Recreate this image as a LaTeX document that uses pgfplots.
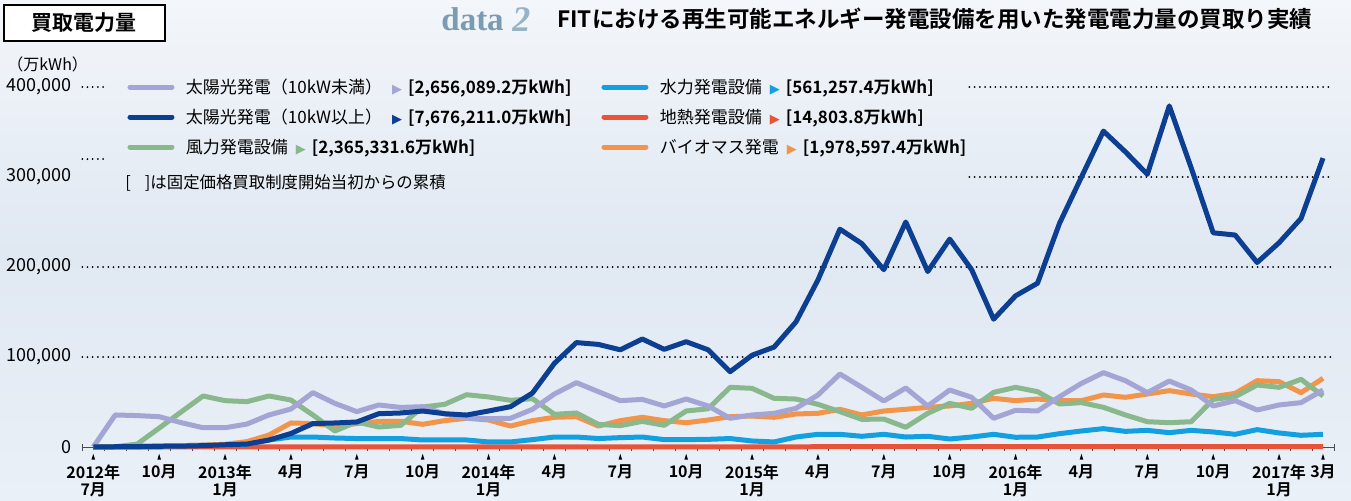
\documentclass[border=0pt]{standalone}
\usepackage{fontspec}
\setmainfont{Noto Sans CJK JP}[BoldFont={Noto Sans CJK JP Bold}]
\newfontfamily\dejavu{DejaVu Sans}
\newfontfamily\serifdata{Liberation Serif}
\usepackage{pgfplots}
\pgfplotsset{compat=1.18}
\usepackage{pgfplotstable}

\definecolor{lav}{RGB}{163,165,213}
\definecolor{dblue}{RGB}{12,62,146}
\definecolor{grn}{RGB}{137,184,141}
\definecolor{sky}{RGB}{18,160,226}
\definecolor{redg}{RGB}{232,83,58}
\definecolor{org}{RGB}{242,148,74}
\definecolor{datac}{RGB}{122,156,176}
\definecolor{datac2}{RGB}{150,180,198}
\definecolor{bgtop}{RGB}{243,246,250}
\definecolor{bgmid}{RGB}{224,232,242}
\definecolor{bgbot}{RGB}{234,240,247}

\newcommand\tri[1]{{\dejavu\fontsize{6.5}{7}\selectfont\textcolor{#1}{▶}}}

% values in 万kWh, month index 0 = 2012-07 ... 56 = 2017-03
\pgfplotstableread{
i lav dark wind hydro geo bio
0 0 0 0 0 0 0
1 35600 300 300 200 0 200
2 34900 500 3300 500 0 500
3 33700 800 21000 1000 0 1000
4 27100 1000 38900 1500 50 1500
5 21400 1500 56700 2000 100 2000
6 21400 2500 51500 2500 100 3000
7 25500 3300 50400 3000 150 6000
8 35600 7800 56700 7800 150 13300
9 42200 15000 52200 11100 200 26700
10 60400 26000 35600 11100 200 26000
11 48500 26700 17800 10000 200 23300
12 39300 27800 27800 9400 200 26000
13 46700 37000 22200 9400 200 28300
14 44000 37800 24100 9400 200 28600
15 44800 40000 44400 7800 200 25200
16 36700 37000 47400 7800 200 29300
17 31900 35500 58100 7800 200 31900
18 31500 40000 55600 5600 200 30000
19 31900 44800 51900 5600 200 23300
20 41900 60000 53700 8200 200 29300
21 58900 93000 36300 11100 250 33000
22 71500 116000 37800 11100 250 33700
23 61500 114000 25200 9400 250 23300
24 51500 108000 23700 10400 250 29300
25 52900 120000 28500 11100 250 33000
26 45600 108500 24100 8200 250 29300
27 53300 117000 40000 8200 250 27000
28 45600 108000 42500 8500 250 30000
29 31900 83700 66300 9400 250 33700
30 35600 102000 65200 6700 250 34400
31 37400 111000 54100 5600 250 33000
32 43000 139000 53300 11100 250 36700
33 57800 185600 47400 14100 300 37400
34 81100 242000 39300 14100 300 41900
35 66300 226000 30700 11900 300 35600
36 51100 197000 31100 14100 300 40000
37 65600 250000 21900 11100 300 41900
38 45600 195000 37400 11900 300 44100
39 63300 231000 48500 8900 300 45600
40 55200 197000 43000 11100 300 48500
41 31900 142000 60700 14100 300 54100
42 40800 168000 66300 10800 300 51500
43 40000 182000 61500 11100 300 53300
44 55900 248500 47800 14800 300 51500
45 70700 300000 49300 17800 300 51500
46 82600 351000 44100 20400 300 57800
47 73700 328000 35600 17400 300 55200
48 60400 303000 28100 18500 300 58900
49 73300 379000 27000 15900 300 62600
50 63300 310000 28100 18500 300 58900
51 45600 238000 52900 16700 300 55900
52 51500 235500 55900 14100 300 59600
53 41100 205000 68900 19300 300 73700
54 46700 227000 66300 15600 300 72600
55 49300 254000 75200 13000 300 60400
56 63300 321000 56700 14100 300 76300
}\datatable

\tikzset{griddots/.style={black, line width=1pt, dash pattern=on 0pt off 2.6pt, line cap=round}}

\begin{document}
\begin{tikzpicture}
\useasboundingbox (0,0) rectangle (675.5pt,250pt);
\clip (0,0) rectangle (675.5pt,250pt);
\shade[top color=bgtop, bottom color=bgbot, middle color=bgmid] (0,0) rectangle (675.5pt,250pt);

\begin{axis}[
  at={(41.15pt,26.5pt)}, anchor=south west,
  scale only axis, width=625.85pt, height=180pt,
  xmin=-0.5, xmax=56.5, ymin=0, ymax=400000,
  clip=false,
  scaled y ticks=false,
  axis x line*=bottom, axis y line*=left,
  y axis line style={draw=none},
  x axis line style={-, draw=black!70, line width=0.5pt},
  tick align=outside,
  xtick={0,3,6,9,12,15,18,21,24,27,30,33,36,39,42,45,48,51,54,56},
  xticklabels={{2012年\\7月},10月,{2013年\\1月},4月,7月,10月,{2014年\\1月},4月,7月,10月,{2015年\\1月},4月,7月,10月,{2016年\\1月},4月,7月,10月,{2017年\\1月},3月},
  major x tick style={draw=none},
  major tick length=0pt,
  minor xtick={-0.5,0.5,...,56.5},
  minor x tick style={black!70, line width=0.45pt},
  minor tick length=2pt,
  xticklabel style={font=\bfseries\fontsize{8}{8.5}\selectfont, align=center, inner sep=0pt, anchor=north, yshift=-8.5pt},
  ytick={0,100000,200000,300000,400000},
  yticklabels={0,{100,000},{200,000},{300,000},{400,000}},
  ytick style={draw=none},
  yticklabel style={font=\fontsize{9}{10}\selectfont, anchor=east, inner sep=0pt, xshift=-5pt},
  legend style={
    at={(0.0361,1.025)}, anchor=north west,
    draw=none, fill=none, inner sep=0pt, outer sep=0pt,
    legend columns=2,
    column sep=5.75pt, row sep=6pt,
    font=\fontsize{8.5}{10}\selectfont,
    nodes={inner sep=0pt, text height=7.5pt, text depth=1.5pt},
  },
  legend cell align=left,
  legend image code/.code={\draw[line cap=round] (0pt,0pt) -- (21pt,0pt);},
]
% dotted grid (interrupted by the legend as in the original)
\draw[griddots] (axis cs:-0.5,100000) -- (axis cs:56.5,100000);
\draw[griddots] (axis cs:-0.5,200000) -- (axis cs:56.5,200000);
\draw[griddots] (axis cs:39.9,300000) -- (axis cs:56.4,300000);
\draw[griddots] (axis cs:39.9,400000) -- (axis cs:56.4,400000);
\draw[griddots] (axis cs:-0.5,320000) -- (axis cs:0.6,320000);
\draw[griddots] (axis cs:-0.5,400000) -- (axis cs:0.6,400000);

\addplot[redg, line width=2.5pt, line join=round, forget plot] table[x=i,y=geo]{\datatable};
\addplot[sky, line width=2.5pt, line join=round, forget plot] table[x=i,y=hydro]{\datatable};
\addplot[org, line width=2.5pt, line join=round, forget plot] table[x=i,y=bio]{\datatable};
\addplot[grn, line width=2.5pt, line join=round, forget plot] table[x=i,y=wind]{\datatable};
\addplot[lav, line width=2.5pt, line join=round, forget plot] table[x=i,y=lav]{\datatable};
\addplot[dblue, line width=2.5pt, line join=round, forget plot] table[x=i,y=dark]{\datatable};

% end ticks of the axis line
\draw[black!70, line width=0.5pt] ([yshift=1.6pt]axis cs:-0.5,0) -- (axis cs:-0.5,0);
\draw[black!70, line width=0.5pt] ([yshift=1.6pt]axis cs:56.5,0) -- (axis cs:56.5,0);
% small triangles marking labelled months
\pgfplotsinvokeforeach{0,3,6,9,12,15,18,21,24,27,30,33,36,39,42,45,48,51,54,56}{
  \fill[black] ([xshift=-0.9pt,yshift=-6.3pt]axis cs:#1,0) -- ([xshift=0.9pt,yshift=-6.3pt]axis cs:#1,0) -- ([yshift=-3.4pt]axis cs:#1,0) -- cycle;
}

\addlegendimage{lav, line width=2.5pt}
\addlegendentry{\makebox[202pt][l]{太陽光発電（10kW未満）\hspace{5pt}\tri{lav}\hspace{3pt}\textbf{[2,656,089.2万kWh]}}}
\addlegendimage{sky, line width=2.5pt}
\addlegendentry{水力発電設備\hspace{4pt}\tri{sky}\hspace{3pt}\textbf{[561,257.4万kWh]}}
\addlegendimage{dblue, line width=2.5pt}
\addlegendentry{\makebox[202pt][l]{太陽光発電（10kW以上）\hspace{5pt}\tri{dblue}\hspace{3pt}\textbf{[7,676,211.0万kWh]}}}
\addlegendimage{redg, line width=2.5pt}
\addlegendentry{地熱発電設備\hspace{4pt}\tri{redg}\hspace{3pt}\textbf{[14,803.8万kWh]}}
\addlegendimage{grn, line width=2.5pt}
\addlegendentry{\makebox[202pt][l]{風力発電設備\hspace{4pt}\tri{grn}\hspace{3pt}\textbf{[2,365,331.6万kWh]}}}
\addlegendimage{org, line width=2.5pt}
\addlegendentry{バイオマス発電\hspace{4pt}\tri{org}\hspace{3pt}\textbf{[1,978,597.4万kWh]}}
\end{axis}

\begin{scope}[x=0.5pt, y=-0.5pt, yshift=250pt]
\node[draw=black, line width=0.6pt, fill=white, minimum width=80.5pt, minimum height=18pt, inner sep=0pt, font=\bfseries\fontsize{10.5}{12}\selectfont] at (84.5,23) {買取電力量};
\node[anchor=west, inner sep=0pt, font=\fontsize{8}{9}\selectfont] at (7,64) {（万kWh）};
\node[anchor=base west, inner sep=0pt, text=datac, font=\serifdata\bfseries\fontsize{16.5}{18}\selectfont] at (441,30) {data};
\node[anchor=base west, inner sep=0pt, text=datac2, font=\serifdata\bfseries\itshape\fontsize{18}{20}\selectfont] at (512,31) {2};
\node[anchor=base west, inner sep=0pt, font=\bfseries\fontsize{11.25}{12}\selectfont] at (557,27) {FITにおける再生可能エネルギー発電設備を用いた発電電力量の買取り実績};
\node[anchor=west, inner sep=0pt, font=\fontsize{8.2}{9}\selectfont] at (125,183) {[\hspace{7pt}]は固定価格買取制度開始当初からの累積};
\end{scope}
\end{tikzpicture}
\end{document}
